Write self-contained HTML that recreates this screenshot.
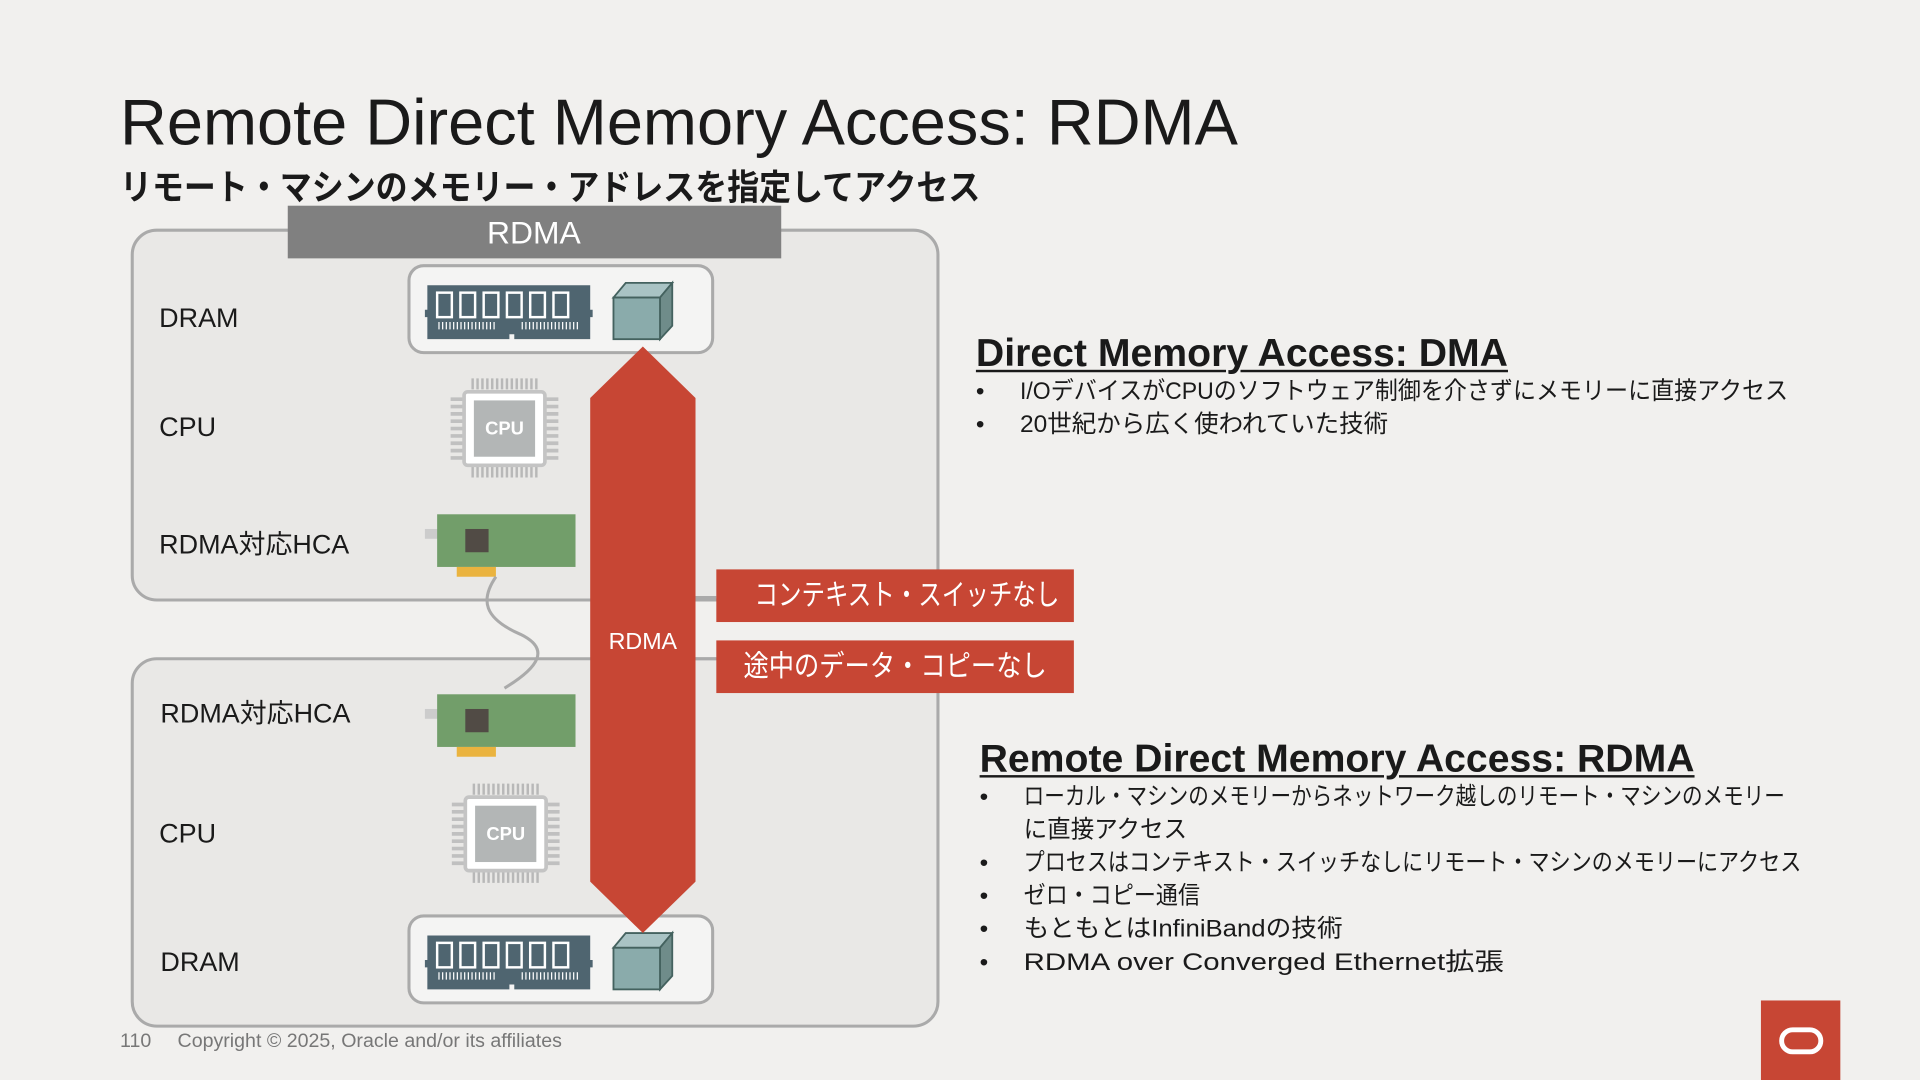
<!DOCTYPE html>
<html><head><meta charset="utf-8"><style>
html,body{margin:0;padding:0;width:1920px;height:1080px;overflow:hidden;background:#f1f0ee;}
#s{position:absolute;left:0;top:0;width:1568px;height:882px;transform:scale(1.22449);transform-origin:0 0;font-family:"Liberation Sans","Noto Sans CJK JP",sans-serif;color:#1a1a1a;}
.a{position:absolute;white-space:nowrap;}
.lbl{font-size:22px;line-height:22px;}
.rl{background:#c74634;color:#fff;font-size:24px;height:43px;line-height:43px;width:292px;left:585px;text-align:center;}
.rl span{display:inline-block;transform-origin:center;}
.h{font-weight:bold;font-size:32px;text-decoration:underline;text-decoration-thickness:2px;text-underline-offset:3px;}
.b{font-size:20px;line-height:27px;}
.b div{position:relative;padding-left:36px;}
.b div:before{content:"•";position:absolute;left:0;}
.sx{display:inline-block;transform-origin:left center;}
</style></head><body><div id="s">
<div class="a" style="left:98px;top:70px;font-size:53px;">Remote Direct Memory Access: RDMA</div>
<div class="a" style="left:98px;top:130px;font-size:29px;font-weight:bold;"><span class="sx" style="transform:scaleX(0.9)">リモート・マシンのメモリー・アドレスを指定してアクセス</span></div>

<svg class="a" style="left:0;top:0" width="1568" height="882">
<rect x="108" y="188" width="658" height="302" rx="20" fill="#e9e8e6" stroke="#aaa" stroke-width="2.5"/>
<rect x="108" y="538" width="658" height="300" rx="20" fill="#e9e8e6" stroke="#aaa" stroke-width="2.5"/>
<rect x="235" y="168" width="403" height="43" fill="#808080"/>
<text x="436" y="199" fill="#fff" font-size="26" text-anchor="middle" font-family="Liberation Sans">RDMA</text>
<line x1="568" y1="488" x2="585" y2="488" stroke="#aaa" stroke-width="2.5"/>
<line x1="568" y1="538" x2="585" y2="538" stroke="#aaa" stroke-width="2.5"/>
<g id="dram">
<rect x="334" y="217" width="248" height="71" rx="12" fill="#f4f4f3" stroke="#aaa" stroke-width="2.5"/>
<path d="M349 233h133v20h2v6h-2v18h-62v-4h-4v4h-67v-18h-2v-6h2z" fill="#4f6570"/>
<g fill="none" stroke="#fff" stroke-width="2"><rect x="357" y="239" width="12" height="20"/><rect x="376" y="239" width="12" height="20"/><rect x="395" y="239" width="12" height="20"/><rect x="414" y="239" width="12" height="20"/><rect x="433" y="239" width="12" height="20"/><rect x="452" y="239" width="12" height="20"/></g>
<path d="M358 266h48M426 266h48" stroke="#fff" stroke-width="6" stroke-dasharray="1 2"/>
<polygon points="501,243 511,231 549,231 539,243" fill="#a9c3c4" stroke="#44625f" stroke-width="1.5"/>
<polygon points="539,243 549,231 549,266 539,277" fill="#6f8c8a" stroke="#44625f" stroke-width="1.5"/>
<rect x="501" y="243" width="38" height="34" fill="#8aabab" stroke="#44625f" stroke-width="1.5"/>
</g>
<use href="#dram" y="531"/>
<g id="cpu">
<path d="M386 309v9M390 309v9M394 309v9M398 309v9M402 309v9M406 309v9M410 309v9M414 309v9M418 309v9M422 309v9M426 309v9M430 309v9M434 309v9M438 309v9M386 381v9M390 381v9M394 381v9M398 381v9M402 381v9M406 381v9M410 381v9M414 381v9M418 381v9M422 381v9M426 381v9M430 381v9M434 381v9M438 381v9" stroke="#b8b8b8" stroke-width="2"/>
<path d="M368 326h10M368 332h10M368 338h10M368 344h10M368 350h10M368 356h10M368 362h10M368 368h10M368 374h10M446 326h10M446 332h10M446 338h10M446 344h10M446 350h10M446 356h10M446 362h10M446 368h10M446 374h10" stroke="#c0c0c0" stroke-width="3"/>
<rect x="379" y="320" width="66" height="60" rx="3" fill="#fff" stroke="#c4c4c4" stroke-width="3"/>
<rect x="387" y="327" width="50" height="46" fill="#b3b6b6"/>
<text x="412" y="355" fill="#fff" font-size="15" font-weight="bold" text-anchor="middle" font-family="Liberation Sans">CPU</text>
</g>
<use href="#cpu" x="1" y="331"/>
<g id="hca">
<rect x="347" y="432" width="21" height="8" fill="#ccc"/>
<rect x="357" y="420" width="113" height="43" fill="#729e6a"/>
<rect x="380" y="432" width="19" height="19" fill="#514b45"/>
<rect x="373" y="463" width="32" height="8" fill="#eab33f"/>
</g>
<use href="#hca" y="147"/>
<path d="M405 471 C392 490,395 505,425 518 C450 530,440 545,412 562" fill="none" stroke="#aaa" stroke-width="2.5"/>
<polygon points="525,283 568,325 568,720 525,762 482,720 482,325" fill="#c74634"/>
<text x="525" y="530" fill="#fff" font-size="19" text-anchor="middle" font-family="Liberation Sans">RDMA</text>
</svg>

<div class="a lbl" style="left:130px;top:249px;">DRAM</div>
<div class="a lbl" style="left:130px;top:338px;">CPU</div>
<div class="a lbl" style="left:130px;top:434px;">RDMA対応HCA</div>
<div class="a lbl" style="left:131px;top:572px;">RDMA対応HCA</div>
<div class="a lbl" style="left:130px;top:670px;">CPU</div>
<div class="a lbl" style="left:131px;top:775px;">DRAM</div>

<div class="a rl" style="top:465px;"><span style="transform:scaleX(0.8)">コンテキスト・スイッチなし</span></div>
<div class="a rl" style="top:523px;"><span style="transform:scaleX(0.86)">途中のデータ・コピーなし</span></div>

<div class="a h" style="left:797px;top:270px;">Direct Memory Access: DMA</div>
<div class="a b" style="left:797px;top:307px;">
<div><span class="sx" style="transform:scaleX(0.94)">I/OデバイスがCPUのソフトウェア制御を介さずにメモリーに直接アクセス</span></div>
<div><span class="sx">20世紀から広く使われていた技術</span></div></div>
<div class="a h" style="left:800px;top:601px;">Remote Direct Memory Access: RDMA</div>
<div class="a b" style="left:800px;top:638px;">
<div><span class="sx" style="transform:scaleX(0.84)">ローカル・マシンのメモリーからネットワーク越しのリモート・マシンのメモリー</span><br><span class="sx" style="transform:scaleX(0.96)">に直接アクセス</span></div>
<div><span class="sx" style="transform:scaleX(0.86)">プロセスはコンテキスト・スイッチなしにリモート・マシンのメモリーにアクセス</span></div>
<div><span class="sx" style="transform:scaleX(0.9)">ゼロ・コピー通信</span></div>
<div><span class="sx" style="transform:scaleX(1.05)">もともとはInfiniBandの技術</span></div>
<div><span class="sx" style="transform:scaleX(1.2)">RDMA over Converged Ethernet拡張</span></div></div>

<div class="a" style="left:98px;top:842px;font-size:16px;color:#777;">110</div>
<div class="a" style="left:145px;top:842px;font-size:16px;color:#777;">Copyright © 2025, Oracle and/or its affiliates</div>
<svg class="a" style="left:1438px;top:817px" width="65" height="65"><rect width="65" height="65" fill="#c74634"/><rect x="17" y="24" width="32" height="18" rx="9" fill="none" stroke="#fff" stroke-width="4"/></svg>
</div></body></html>
